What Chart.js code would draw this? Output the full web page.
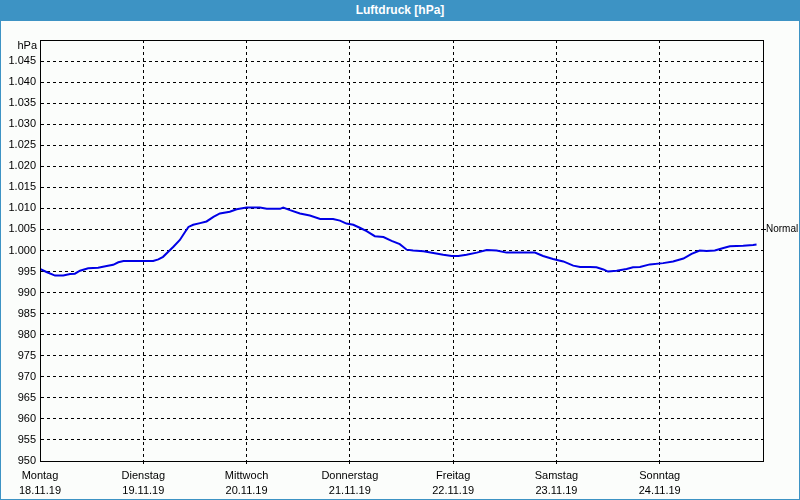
<!DOCTYPE html>
<html>
<head>
<meta charset="utf-8">
<script src="https://cdn.jsdelivr.net/npm/chart.js@4/dist/chart.umd.min.js"></script>
<style>
  html, body { margin: 0; padding: 0; background: #fbfdfb; }
  #frame { position: absolute; left: 0; top: 0; width: 800px; height: 500px; box-sizing: border-box;
           border: 1px solid #3d93c4; background: #fbfdfb; }
  #head { position: absolute; left: 0; top: 0; width: 800px; height: 21px; background: #3d93c4;
          color: #ffffff; font: bold 12px "Liberation Sans", Arial, sans-serif; text-align: center; line-height: 21px; }
  #wrap { position: absolute; left: 1px; top: 21px; width: 798px; height: 478px; }
</style>
</head>
<body>
<div id="frame"></div>
<div id="head">Luftdruck [hPa]</div>
<div id="wrap"><canvas id="c" width="798" height="478"></canvas></div>
<script>
// ---- data ----
const dayNames = ['Montag', 'Dienstag', 'Mittwoch', 'Donnerstag', 'Freitag', 'Samstag', 'Sonntag'];
const dayDates = ['18.11.19', '19.11.19', '20.11.19', '21.11.19', '22.11.19', '23.11.19', '24.11.19'];
const unitLabel = 'hPa';
const normalValue = 1005;
const normalLabel = 'Normal';
const yMin = 950, yMax = 1050, yStep = 5;
const xMaxHours = 168, xStepHours = 24;

const hours = [0, 1.5, 3.5, 5.4, 7, 8.1, 9.3, 11.2, 13.5, 15.5, 17, 18.2, 19.4, 21.7, 26.3, 27.5, 28.6, 29.8, 31, 32.5,
  33.7, 34.5, 35.6, 37.2, 38.7, 40.3, 41.8, 44.1, 45.7, 48, 51.1, 52.7, 55.8, 56.5, 58.1, 60.4, 62.7, 65.1, 68.1, 69.7,
  71.2, 72.8, 74.3, 75.9, 77.8, 79.8, 81.7, 83.6, 85.2, 86.7, 89.1, 91.4, 93.7, 95.7, 97.2, 99.1, 101.5, 103.8, 106.1,
  108.4, 111.5, 115, 116.9, 119.2, 121.6, 123.9, 125.5, 127.8, 129.3, 130.9, 132, 134, 136.3, 137.8, 139.4, 141.7,
  144.8, 147.1, 149.5, 151.4, 153.3, 154.9, 156.8, 158.8, 160.3, 163.4, 165.7, 166.5];
const pressure = [995.6, 994.9, 994.05, 994.05, 994.4, 994.5, 995.2, 995.8, 995.9, 996.3, 996.6, 997.2, 997.5, 997.5, 997.5,
  997.9, 998.5, 999.7, 1000.9, 1002.5, 1004.4, 1005.6, 1006.1, 1006.5, 1006.9, 1008.0, 1008.8, 1009.2, 1009.8, 1010.2,
  1010.2, 1009.9, 1009.9, 1010.2, 1009.6, 1008.8, 1008.3, 1007.5, 1007.5, 1007.1, 1006.4, 1006.1, 1005.4, 1004.6,
  1003.4, 1003.2, 1002.3, 1001.5, 1000.2, 1000.0, 999.8, 999.4, 999.0, 998.7, 998.7, 999.0, 999.5, 1000.1, 1000.0,
  999.5, 999.5, 999.5, 998.7, 998.0, 997.4, 996.4, 996.1, 996.1, 996.0, 995.5, 995.0, 995.2, 995.6, 996.0, 996.1,
  996.7, 997.0, 997.4, 998.1, 999.2, 1000.0, 999.9, 1000.0, 1000.6, 1001.0, 1001.1, 1001.3, 1001.4];

// ---- chart ----
const FONT = { family: '"Liberation Sans", Arial, sans-serif', size: 11 };

const framePlugin = {
  id: 'frameBox',
  afterDraw(chart) {
    const { ctx, chartArea: a } = chart;
    ctx.save();
    ctx.strokeStyle = '#000';
    ctx.lineWidth = 1;
    ctx.strokeRect(Math.round(a.left) + 0.5, Math.round(a.top) + 0.5, Math.round(a.right - a.left), Math.round(a.bottom - a.top));
    ctx.fillStyle = '#000';
    ctx.font = '11px "Liberation Sans", Arial, sans-serif';
    ctx.textAlign = 'right';
    ctx.textBaseline = 'middle';
    ctx.fillText(unitLabel, a.left - 3, a.top + 6);
    ctx.restore();
  }
};

new Chart(document.getElementById('c'), {
  type: 'line',
  data: {
    datasets: [{
      data: hours.map((h, i) => ({ x: h, y: pressure[i] })),
      borderColor: '#0000e6',
      borderWidth: 2,
      pointRadius: 0,
      tension: 0,
      fill: false
    }]
  },
  options: {
    responsive: false,
    animation: false,
    events: [],
    layout: { padding: { top: 19, left: 0, right: 0, bottom: 0 } },
    plugins: { legend: { display: false }, tooltip: { enabled: false }, title: { display: false } },
    scales: {
      x: {
        type: 'linear',
        min: 0, max: xMaxHours,
        afterFit(s) { s.height = 38; },
        grid: {
          color: (c) => (c.tick && (c.tick.value === 0 || c.tick.value === xMaxHours)) ? 'rgba(0,0,0,0)' : '#000',
          lineWidth: 1,
          tickLength: 3,
          drawTicks: true
        },
        border: { display: true, color: '#000', dash: [3, 3] },
        ticks: {
          stepSize: xStepHours,
          autoSkip: false,
          maxRotation: 0,
          color: '#000',
          font: { ...FONT, lineHeight: '15px' },
          padding: 4,
          callback: (v) => {
            const i = Math.round(v / xStepHours);
            return i < dayNames.length ? [dayNames[i], dayDates[i]] : '';
          }
        }
      },
      y: {
        min: yMin, max: yMax,
        afterFit(s) { s.width = 39; },
        grid: {
          color: (c) => (c.tick && (c.tick.value === yMax || c.tick.value === yMin)) ? 'rgba(0,0,0,0)' : '#000',
          lineWidth: 1,
          drawTicks: false
        },
        border: { display: true, color: '#000', dash: [3, 3] },
        ticks: {
          stepSize: yStep,
          color: '#000',
          font: FONT,
          padding: 4,
          callback: (v) => v === yMax ? '' : String(v).replace(/^(\d)(\d{3})$/, '$1.$2')
        }
      },
      y2: {
        position: 'right',
        min: yMin, max: yMax,
        afterFit(s) { s.width = 36; },
        afterBuildTicks(s) { s.ticks = [{ value: normalValue }]; },
        grid: { drawOnChartArea: false, color: '#000', tickLength: 3 },
        border: { display: true, color: '#000' },
        ticks: { color: '#000', font: { ...FONT, size: 10 }, padding: 0, callback: () => normalLabel }
      }
    }
  },
  plugins: [framePlugin]
});
</script>
</body>
</html>
